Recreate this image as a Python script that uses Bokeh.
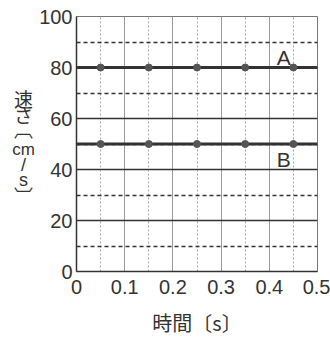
from bokeh.plotting import figure
from bokeh.layouts import row
from bokeh.models import Range1d, FixedTicker, Label
from bokeh.core.properties import value
from bokeh.embed import file_html
from bokeh.resources import INLINE

# data
times = [0.05, 0.15, 0.25, 0.35, 0.45]
speed_A = [80, 80, 80, 80, 80]
speed_B = [50, 50, 50, 50, 50]
line_x = [0.0, 0.5]
line_A = [80, 80]
line_B = [50, 50]
x_ticks = [0, 0.1, 0.2, 0.3, 0.4, 0.5]
x_minor = [0.05, 0.15, 0.25, 0.35, 0.45]
y_ticks = [0, 20, 40, 60, 80, 100]
y_minor = [10, 30, 50, 70, 90]
x_title = "時間〔s〕"
y_title_parts = ["速", "さ", "︹", "cm", "/", "s", "︺"]
series_names = ["A", "B"]

JP = "Noto Sans CJK JP"
LAT = "Liberation Sans"
INK = "#333333"

W, H = 330, 339
STRIP_W = 36
TOP, BOTTOM = 16, 64
FRAME_H = H - TOP - BOTTOM
PX_PER_UNIT = FRAME_H / 100.0

def px_to_y(py):
    # page pixel row -> value on the shared speed scale
    return (H - BOTTOM - py) / PX_PER_UNIT

# left strip: vertical y-axis title (its frame is aligned with the main frame)
t = figure(width=STRIP_W, height=H, output_backend="svg", toolbar_location=None,
           x_range=Range1d(0, STRIP_W), y_range=Range1d(0, 100),
           min_border_left=0, min_border_right=0, min_border_top=TOP, min_border_bottom=BOTTOM,
           outline_line_color=None)
t.axis.visible = False
t.grid.visible = False
t.background_fill_color = "white"
t.border_fill_color = "white"
title_rows = [99, 116, 130, 151, 167, 182, 198]
title_fonts = [JP, JP, JP, LAT, LAT, LAT, JP]
title_sizes = ["19px", "19px", "19px", "17px", "18px", "18px", "19px"]
for part, r, f, s in zip(y_title_parts, title_rows, title_fonts, title_sizes):
    t.text([23], [px_to_y(r)], text=[part], text_font=value(f), text_font_size=s,
           text_color=INK, text_align="center", text_baseline="middle")

p = figure(width=W - STRIP_W, height=H, output_backend="svg", toolbar_location=None,
           x_range=Range1d(0, 0.5), y_range=Range1d(0, 100),
           min_border_left=76 - STRIP_W, min_border_right=13, min_border_top=TOP, min_border_bottom=BOTTOM)
p.background_fill_color = "white"
p.border_fill_color = "white"
p.outline_line_color = "#777777"
p.outline_line_width = 1

# grids
p.xgrid.ticker = FixedTicker(ticks=x_ticks, minor_ticks=x_minor)
p.ygrid.ticker = FixedTicker(ticks=y_ticks, minor_ticks=y_minor)
p.xgrid.grid_line_color = "#9a9a9a"
p.xgrid.grid_line_width = 1
p.xgrid.minor_grid_line_color = "#a8a8a8"
p.xgrid.minor_grid_line_dash = "2 2"
p.xgrid.minor_grid_line_width = 1
p.ygrid.grid_line_color = INK
p.ygrid.grid_line_width = 1.3
p.ygrid.minor_grid_line_color = INK
p.ygrid.minor_grid_line_dash = "4 3"
p.ygrid.minor_grid_line_width = 1.3

# axes
p.xaxis.ticker = FixedTicker(ticks=x_ticks)
p.yaxis.ticker = FixedTicker(ticks=y_ticks)
p.xaxis.major_label_overrides = {0: "0", 0.1: "0.1", 0.2: "0.2", 0.3: "0.3", 0.4: "0.4", 0.5: "0.5"}
for ax in (p.xaxis, p.yaxis):
    ax.axis_line_color = INK
    ax.axis_line_width = 1.5
    ax.major_tick_line_color = None
    ax.minor_tick_line_color = None
    ax.major_tick_in = 0
    ax.major_tick_out = 0
    ax.minor_tick_in = 0
    ax.minor_tick_out = 0
    ax.major_label_text_font = LAT
    ax.major_label_text_font_size = "20px"
    ax.major_label_text_color = INK
p.xaxis.major_label_standoff = 8
p.yaxis.major_label_standoff = 4
p.xaxis.axis_label = x_title
p.xaxis.axis_label_text_font = JP
p.xaxis.axis_label_text_font_size = "20px"
p.xaxis.axis_label_text_font_style = "normal"
p.xaxis.axis_label_text_color = INK
p.xaxis.axis_label_standoff = 11

# series
p.line(line_x, line_A, line_color=INK, line_width=3)
p.line(line_x, line_B, line_color=INK, line_width=3)
p.scatter(times, speed_A, size=7, fill_color="#555555", line_color="#555555")
p.scatter(times, speed_B, size=7, fill_color="#555555", line_color="#555555")

# series labels
for name, ly in zip(series_names, [84.0, 44.0]):
    p.add_layout(Label(x=0.43, y=ly, text=name, text_font=LAT, text_font_size="21px",
                       text_color=INK, text_align="center", text_baseline="middle"))

layout = row(t, p, spacing=0)
open("out.html", "w").write(file_html(layout, INLINE))
